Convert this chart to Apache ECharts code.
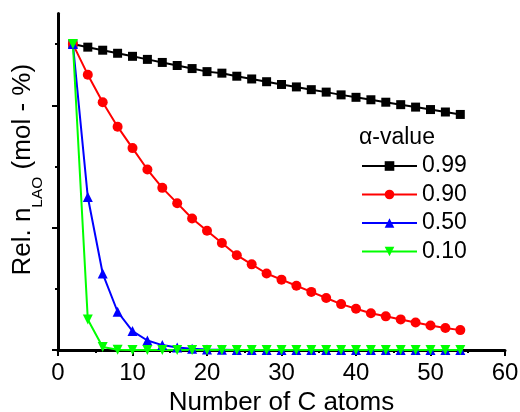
<!DOCTYPE html>
<html>
<head>
<meta charset="utf-8">
<script src="https://cdn.jsdelivr.net/npm/echarts@6/dist/echarts.min.js"></script>
<style>html,body{margin:0;padding:0;background:#fff}#c{width:520px;height:412px}</style>
</head>
<body>
<div id="c"></div>
<script>
var carbonNumbers = [2,4,6,8,10,12,14,16,18,20,22,24,26,28,30,32,34,36,38,40,42,44,46,48,50,52,54];
var alpha099 = [1.00,0.99,0.98,0.97,0.96,0.95,0.94,0.93,0.92,0.91,0.905,0.895,0.886,0.877,0.868,0.860,0.851,0.843,0.834,0.826,0.818,0.810,0.802,0.794,0.786,0.778,0.770];
var alpha090 = [1.00,0.90,0.81,0.73,0.66,0.59,0.53,0.48,0.43,0.39,0.35,0.31,0.28,0.25,0.23,0.21,0.19,0.17,0.15,0.135,0.12,0.11,0.10,0.09,0.08,0.072,0.065];
var alpha050 = [1.00,0.50,0.25,0.125,0.062,0.031,0.016,0.008,0.004,0.002,0.001,0,0,0,0,0,0,0,0,0,0,0,0,0,0,0,0];
var alpha010 = [1.00,0.10,0.01,0.001,0,0,0,0,0,0,0,0,0,0,0,0,0,0,0,0,0,0,0,0,0,0,0];
var seriesNames = ['0.99','0.90','0.50','0.10'];
var xTicks = [0,10,20,30,40,50,60];
var yMajorTicks = [0,0.4,0.8];
var yMinorTicks = [0.2,0.6,1.0];

function pairs(vals){ return carbonNumbers.map(function(x,i){ return [x, vals[i]]; }); }

var FONT = 'Liberation Sans';
var chart = echarts.init(document.getElementById('c'), null, {renderer:'canvas'});
chart.setOption({
  animation:false,
  backgroundColor:'#fff',
  textStyle:{fontFamily:FONT},
  title:{text:'α-value', left:359, top:126, textStyle:{fontFamily:FONT, fontSize:23, fontWeight:'normal', color:'#000', lineHeight:23}, padding:0},
  legend:{
    left:361, top:154.5, orient:'vertical', itemWidth:55, itemHeight:12, itemGap:5.5,
    padding:0,
    textStyle:{fontFamily:FONT, fontSize:23, color:'#000', lineHeight:23},
    data:seriesNames
  },
  grid:{left:58, right:15, top:13.5, bottom:62, containLabel:false, outerBoundsMode:'none'},
  xAxis:{
    type:'value', min:0, max:60, interval:10,
    name:'Number of C atoms', nameLocation:'middle', nameGap:27,
    nameTextStyle:{fontFamily:FONT, fontSize:26, color:'#000'},
    axisLine:{onZero:false, lineStyle:{color:'#000', width:3}},
    axisTick:{show:true, inside:false, length:6, lineStyle:{color:'#000', width:2}, customValues:xTicks},
    minorTick:{show:true, splitNumber:2, length:3, lineStyle:{color:'#000', width:2}},
    axisLabel:{fontFamily:FONT, fontSize:24, color:'#000', margin:11, customValues:xTicks},
    splitLine:{show:false}
  },
  yAxis:[{
    type:'value', min:0, max:1.1,
    name:'{a|Rel. n}{s|LAO}{a| (mol - %)}', nameLocation:'middle', nameGap:12, nameRotate:90,
    nameTextStyle:{fontFamily:FONT, fontSize:26, color:'#000', padding:[0,0,0,24],
      rich:{a:{fontFamily:FONT, fontSize:26, color:'#000', verticalAlign:'top'},
            s:{fontFamily:FONT, fontSize:15.5, color:'#000', verticalAlign:'top', padding:[20,0,0,0]}}},
    axisLine:{onZero:false, lineStyle:{color:'#000', width:3}},
    axisTick:{show:true, inside:false, length:6, lineStyle:{color:'#000', width:2}, customValues:yMajorTicks},
    axisLabel:{show:false},
    splitLine:{show:false}
  },{
    type:'value', min:0, max:1.1, position:'left',
    axisLine:{show:false},
    axisTick:{show:true, inside:false, length:3, lineStyle:{color:'#000', width:2}, customValues:yMinorTicks},
    axisLabel:{show:false},
    splitLine:{show:false}
  }],
  series:[
    {name:seriesNames[0], type:'line', data:pairs(alpha099), color:'#000000', symbol:'rect', symbolSize:9,
     lineStyle:{width:2, color:'#000'}, itemStyle:{color:'#000'}},
    {name:seriesNames[1], type:'line', data:pairs(alpha090), color:'#ff0000', symbol:'circle', symbolSize:10,
     lineStyle:{width:2, color:'#f00'}, itemStyle:{color:'#f00'}},
    {name:seriesNames[2], type:'line', data:pairs(alpha050), color:'#0000ff', symbol:'triangle', symbolSize:10,
     lineStyle:{width:2, color:'#00f'}, itemStyle:{color:'#00f'}},
    {name:seriesNames[3], type:'line', data:pairs(alpha010), color:'#00ff00', symbol:'triangle', symbolRotate:180, symbolSize:10,
     lineStyle:{width:2, color:'#0f0'}, itemStyle:{color:'#0f0'}}
  ]
});
</script>
</body>
</html>
